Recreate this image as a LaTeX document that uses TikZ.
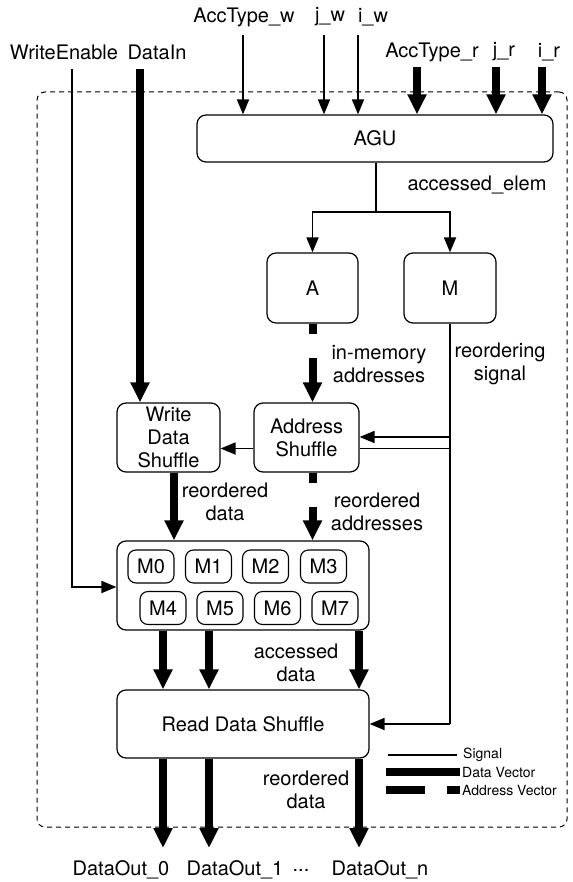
\documentclass[tikz,border=0pt]{standalone}
\usepackage{fontspec}
\setmainfont{TeX Gyre Heros}
\usetikzlibrary{arrows.meta}
\begin{document}
\begin{tikzpicture}[x=1pt,y=-1pt,font=\fontsize{20}{23}\selectfont,
  box/.style={draw, line width=1.2pt, rounded corners=9pt, inner sep=0pt, align=center},
  subbox/.style={draw, line width=1.1pt, rounded corners=8pt, inner sep=0pt, minimum width=46pt, minimum height=33pt},
  sig/.style={line width=1.8pt},
  sigarrow/.style={line width=1.8pt, -{Triangle[width=12pt,length=15pt]}},
  dataarrow/.style={line width=7.5pt, -{Triangle[width=18pt,length=20pt]}},
  addrarrow/.style={line width=8pt, dash pattern=on 10pt off 24pt on 40pt, -{Triangle[width=18pt,length=20pt]}},
  lbl/.style={inner sep=0pt, align=center},
  leg/.style={inner sep=0pt, anchor=west, font=\fontsize{14}{15}\selectfont}]
\useasboundingbox (0,0) rectangle (572,882);

% dashed enclosure
\node[draw, dash pattern=on 5pt off 4pt, line width=1pt, rounded corners=8pt,
      minimum width=530pt, minimum height=735pt, inner sep=0pt] (chip) at (302,459.5) {};

% blocks
\node[box, minimum width=356pt, minimum height=47pt] (agu) at (375,138.5) {AGU};
\node[box, minimum width=91pt, minimum height=70pt] (a) at (312.5,288) {A};
\node[box, minimum width=92pt, minimum height=70pt] (m) at (450,288) {M};
\node[box, minimum width=103pt, minimum height=69pt] (wds) at (168.5,437.5) {Write\\Data\\Shuffle};
\node[box, minimum width=105pt, minimum height=69pt] (as) at (306.5,437.5) {Address\\Shuffle};
\node[box, minimum width=252pt, minimum height=89pt] (mem) at (243,585.5) {};
\node[subbox] (m0) at (151,566.5) {M0};
\node[subbox] (m1) at (208.5,566.5) {M1};
\node[subbox] (m2) at (265.5,566.5) {M2};
\node[subbox] (m3) at (323.5,566.5) {M3};
\node[subbox] (m4) at (163,608) {M4};
\node[subbox] (m5) at (220,608) {M5};
\node[subbox] (m6) at (277.5,608) {M6};
\node[subbox] (m7) at (335,608) {M7};
\node[box, minimum width=252pt, minimum height=68pt] (rds) at (243,724) {Read Data Shuffle};

% top labels
\node[lbl] (lacw) at (244,17) {AccType\_w};
\node[lbl] (ljw) at (330,17) {j\_w};
\node[lbl] (liw) at (373,17) {i\_w};
\node[lbl] (lwe) at (64,52) {WriteEnable};
\node[lbl] (ldin) at (157,52) {DataIn};
\node[lbl] (lacr) at (432,52) {AccType\_r};
\node[lbl] (ljr) at (504,52) {j\_r};
\node[lbl] (lir) at (549,52) {i\_r};

% input arrows
\coordinate (accw) at (243,35);
\coordinate (jw) at (324,35);
\coordinate (iw) at (358,35);
\coordinate (accr) at (417,67);
\coordinate (jr) at (496,67);
\coordinate (ir) at (542,67);
\draw[sigarrow] (accw) -- (accw |- agu.north);
\draw[sigarrow] (jw) -- (jw |- agu.north);
\draw[sigarrow] (iw) -- (iw |- agu.north);
\draw[dataarrow] (accr) -- (accr |- agu.north);
\draw[dataarrow] (jr) -- (jr |- agu.north);
\draw[dataarrow] (ir) -- (ir |- agu.north);

% WriteEnable and DataIn
\coordinate (we) at (72,69);
\coordinate (weturn) at (72,587);
\draw[sigarrow] (we) -- (weturn) -- (weturn -| mem.west);
\coordinate (din) at (140,69);
\draw[dataarrow] (din) -- (din |- wds.north);

% AGU to A and M
\coordinate (split) at (376,212);
\draw[sig] (agu.south -| split) -- (split);
\draw[sigarrow] (split) -| (a.north);
\draw[sigarrow] (split) -| (m.north);
\node[lbl] (lae) at (477,185) {accessed\_elem};

% addresses
\draw[addrarrow] (a.south) -- (a.south |- as.north);
\node[lbl] (lima) at (379,364) {in-memory\\addresses};
\draw[addrarrow] (as.south -| a.south) -- (a.south |- mem.north);
\node[lbl] (lra) at (377,511.5) {reordered\\addresses};

% reordering signal
\coordinate (mturn) at (450,724);
\coordinate (mb1) at (450,437);
\coordinate (mb2) at (450,448.5);
\draw[sig] (m.south) -- (mturn);
\draw[sigarrow] (mturn) -- (mturn -| rds.east);
\draw[sigarrow] (mb1) -- (mb1 -| as.east);
\draw[sig] (mb2) -- (mb2 -| as.east);
\draw[sigarrow] (as.west |- mb2) -- (wds.east |- mb2);
\node[lbl] (lrs) at (500,364) {reordering\\signal};

% write data path
\coordinate (wdx) at (174,0);
\draw[dataarrow] (wds.south -| wdx) -- (mem.north -| wdx);
\node[lbl] (lrd1) at (225,501.5) {reordered\\data};

% read data path
\coordinate (d0) at (163,848);
\coordinate (d1) at (209,848);
\coordinate (dn) at (359,848);
\foreach \p in {d0,d1,dn} {
  \draw[dataarrow] (mem.south -| \p) -- (rds.north -| \p);
  \draw[dataarrow] (rds.south -| \p) -- (\p);
}
\node[lbl] (lad) at (296,663) {accessed\\data};
\node[lbl] (lrd2) at (306,789.5) {reordered\\data};

% outputs
\node[lbl] (lo0) at (121,870) {DataOut\_0};
\node[lbl] (lo1) at (235,870) {DataOut\_1};
\node[lbl] (lodots) at (301,870) {...};
\node[lbl] (lon) at (380,870) {DataOut\_n};

% legend
\coordinate (s1) at (388,755);
\coordinate (s2) at (457,755);
\coordinate (v1) at (386,772);
\coordinate (v2) at (460,772);
\coordinate (a1) at (386,790);
\coordinate (a2) at (460,790);
\draw[sig] (s1) -- (s2);
\draw[line width=8pt] (v1) -- (v2);
\draw[line width=8pt, dash pattern=on 39pt off 22pt on 20pt] (a1) -- (a2);
\node[leg] (lsig) at (463,755) {Signal};
\node[leg] (ldv) at (462,772) {Data Vector};
\node[leg] (lav) at (462,790) {Address Vector};
\end{tikzpicture}
\end{document}
